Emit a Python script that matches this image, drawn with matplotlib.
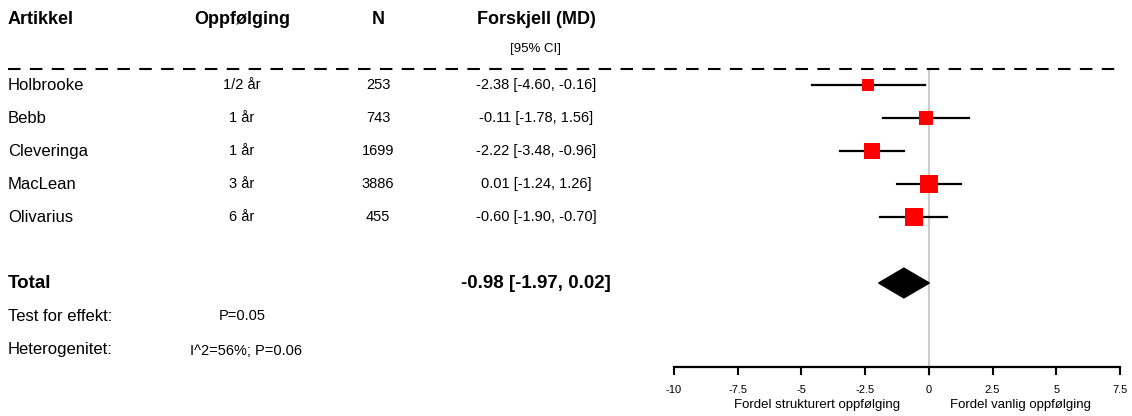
import matplotlib
matplotlib.use("Agg")
import matplotlib.pyplot as plt
import matplotlib.transforms as mtransforms

plt.rcParams['font.family'] = ['Liberation Sans', 'DejaVu Sans']
plt.rcParams['axes.unicode_minus'] = False

# Data
studies = ["Holbrooke", "Bebb", "Cleveringa", "MacLean", "Olivarius"]
followup = ["1/2 år", "1 år", "1 år", "3 år", "6 år"]
n_pat = [253, 743, 1699, 3886, 455]
md = [-2.38, -0.11, -2.22, 0.01, -0.60]
ci_low = [-4.60, -1.78, -3.48, -1.24, -1.90]
ci_high = [-0.16, 1.56, -0.96, 1.26, 0.70]
ci_text = ["-2.38 [-4.60, -0.16]", "-0.11 [-1.78, 1.56]", "-2.22 [-3.48, -0.96]",
           "0.01 [-1.24, 1.26]", "-0.60 [-1.90, -0.70]"]
marker_size = [8.5, 10, 12.2, 12.7, 12.3]

total_md = -0.98
total_low = -1.97
total_high = 0.02
total_text = "-0.98 [-1.97, 0.02]"
p_effect = "P=0.05"
heterog = "I^2=56%; P=0.06"

xticks = [-10, -7.5, -5, -2.5, 0, 2.5, 5, 7.5]

W, H = 1132, 416
fig = plt.figure(figsize=(W / 100, H / 100), dpi=100)
ax = fig.add_axes([674 / W, 1 - 367 / H, (1120 - 674) / W, 367 / H])
ax.set_xlim(-10, 7.5)
ax.set_ylim(8.545, -2.576)

for s in ['top', 'right', 'left']:
    ax.spines[s].set_visible(False)
ax.spines['bottom'].set_linewidth(1.6)
ax.set_yticks([])
ax.set_xticks(xticks)
ax.set_xticklabels([f"{t:g}" for t in xticks])
ax.tick_params(axis='x', direction='out', length=6, width=1.5, pad=7, labelsize=8)

# zero line
ax.plot([0, 0], [-0.45, 8.8], color='#cccccc', lw=1.5, clip_on=False, zorder=0)

rows = list(range(len(studies)))
for i in rows:
    ax.plot([ci_low[i], ci_high[i]], [i, i], color='black', lw=1.6, zorder=2)
    ax.plot(md[i], i, marker='s', color='red', markersize=marker_size[i],
            markeredgewidth=0, zorder=3)

total_row = 6
hh = 0.45
ax.fill([total_low, total_md, total_high, total_md],
        [total_row, total_row - hh, total_row, total_row + hh],
        color='black', zorder=3)

# text columns
tr = mtransforms.blended_transform_factory(fig.transFigure, ax.transData)
x_name = 8 / W
x_fu = 242 / W
x_n = 378 / W
x_ci = 536 / W
small = 10.5

hdr = dict(fontsize=13, fontweight='bold', va='center', transform=tr)
ax.text(x_name, -2, "Artikkel", ha='left', **hdr)
ax.text(x_fu, -2, "Oppfølging", ha='center', **hdr)
ax.text(x_n, -2, "N", ha='center', **hdr)
ax.text(x_ci, -2, "Forskjell (MD)", ha='center', **hdr)
ax.text(x_ci, -1.1, "[95% CI]", ha='center', va='center', fontsize=9.5, transform=tr)

ax.plot([8 / W, 1118 / W], [-0.5, -0.5], color='black', lw=1.5,
        linestyle=(0, (6, 4.5)), transform=tr, clip_on=False)

for i in rows:
    ax.text(x_name, i, studies[i], ha='left', va='center', fontsize=12, transform=tr)
    ax.text(x_fu, i, followup[i], ha='center', va='center', fontsize=small, transform=tr)
    ax.text(x_n, i, str(n_pat[i]), ha='center', va='center', fontsize=small, transform=tr)
    ax.text(x_ci, i, ci_text[i], ha='center', va='center', fontsize=small, transform=tr)

ax.text(x_name, total_row, "Total", ha='left', va='center', fontsize=13.5,
        fontweight='bold', transform=tr)
ax.text(x_ci, total_row, total_text, ha='center', va='center', fontsize=13.5,
        fontweight='bold', transform=tr)
ax.text(x_name, 7, "Test for effekt:", ha='left', va='center', fontsize=12, transform=tr)
ax.text(242 / W, 7, p_effect, ha='center', va='center', fontsize=small, transform=tr)
ax.text(x_name, 8, "Heterogenitet:", ha='left', va='center', fontsize=12, transform=tr)
ax.text(246 / W, 8.05, heterog, ha='center', va='center', fontsize=small, transform=tr)

# axis labels
trx = mtransforms.blended_transform_factory(ax.transData, fig.transFigure)
ax.text(-4.37, 1 - 405 / H, "Fordel strukturert oppfølging", ha='center', va='center',
        fontsize=9.5, transform=trx)
ax.text(3.6, 1 - 405 / H, "Fordel vanlig oppfølging", ha='center', va='center',
        fontsize=9.5, transform=trx)

fig.savefig("out.png", dpi=100)
